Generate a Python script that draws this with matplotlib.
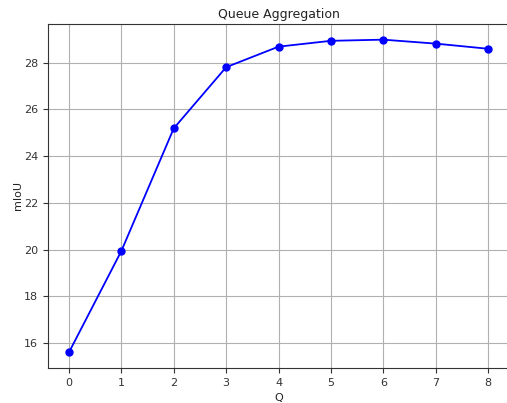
import matplotlib
matplotlib.use("Agg")
import matplotlib.pyplot as plt

Q = [0, 1, 2, 3, 4, 5, 6, 7, 8]
miou = [15.6, 19.94, 25.19, 27.81, 28.69, 28.94, 28.99, 28.82, 28.6]

fig = plt.figure(figsize=(5.07, 4.03), dpi=100)
ax = fig.add_axes([0.0947, 0.0869, 0.9093, 0.8535])
ax.plot(Q, miou, marker='o', color='blue', linewidth=1.3, markersize=5)
ax.set_title('Queue Aggregation', fontsize=9, color='#222222', pad=4.5)
ax.set_xlabel('Q', fontsize=8, color='#222222')
ax.set_ylabel('mIoU', fontsize=8, color='#222222', labelpad=0.5)
ax.tick_params(labelsize=8, colors='#333333')
ax.grid(True, color='#b0b0b0', linewidth=0.8)
for s in ax.spines.values():
    s.set_color('#333333')
fig.savefig('out.png', dpi=100)
